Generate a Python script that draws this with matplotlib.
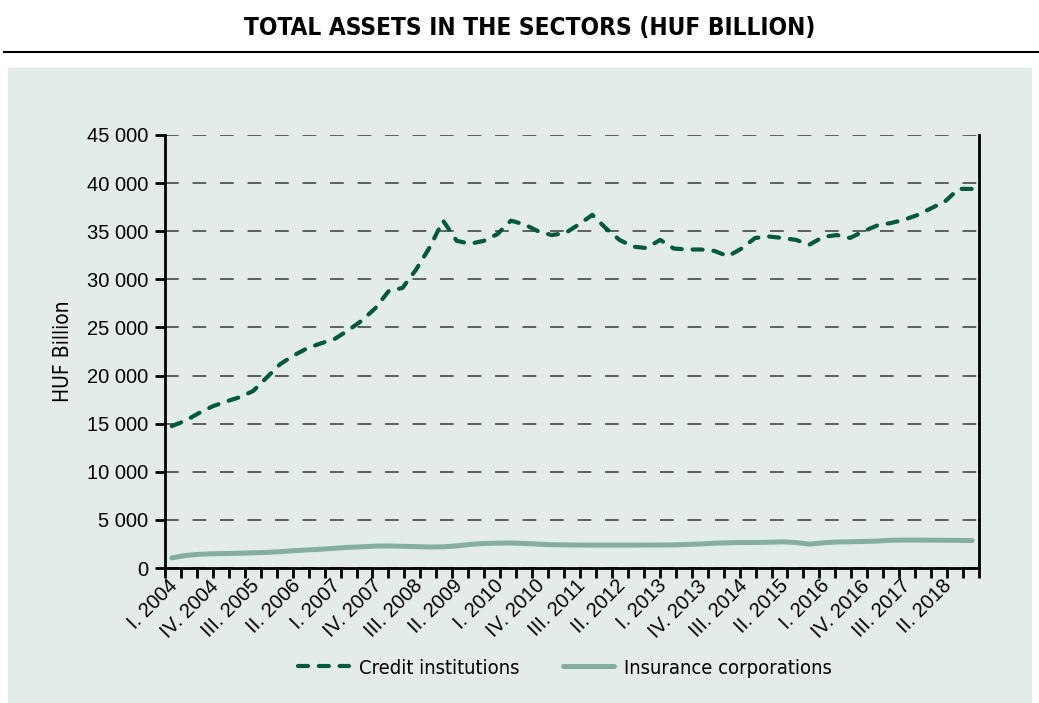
import numpy as np
import matplotlib
matplotlib.use("Agg")
import matplotlib.pyplot as plt
import matplotlib.transforms as mtransforms
from matplotlib.ticker import FuncFormatter, FixedLocator

# quarterly data, I. 2004 - IV. 2018
years = list(range(2004, 2019))
roman = ["I", "II", "III", "IV"]
quarters = [f"{r}. {y}" for y in years for r in roman]

credit = [14750, 15300, 16100, 16800, 17300, 17750, 18400, 19800,
          21200, 22100, 22850, 23350, 23800, 24700, 25700, 27000,
          28800, 29100, 31000, 33300, 36100, 34000, 33700, 34000,
          34700, 36100, 35700, 35000, 34600, 34800, 35700, 36700,
          35300, 34100, 33400, 33250, 34100, 33200, 33100, 33100,
          32950, 32400, 33200, 34300, 34450, 34300, 34100, 33600,
          34400, 34600, 34300, 35000, 35600, 35850, 36200, 36700,
          37400, 38100, 39400, 39400]

insurance = [1050, 1300, 1420, 1480, 1500, 1530, 1580, 1620,
             1700, 1800, 1880, 1950, 2050, 2150, 2200, 2280,
             2290, 2260, 2220, 2180, 2200, 2300, 2450, 2550,
             2580, 2600, 2550, 2480, 2420, 2400, 2390, 2380,
             2380, 2380, 2380, 2390, 2390, 2400, 2450, 2500,
             2580, 2620, 2650, 2650, 2680, 2720, 2650, 2480,
             2620, 2700, 2720, 2760, 2800, 2880, 2900, 2900,
             2890, 2880, 2870, 2850]

DARK = "#005a3c"
LIGHT = "#84ae9e"
BG = "#e4ece9"
REG = ["Liberation Sans", "DejaVu Sans"]

fig = plt.figure(figsize=(10.39, 7.03), dpi=100)
W, H = 1039, 703

# shaded panel and title rule
fig.patches.append(plt.Rectangle((8 / W, 0), (1031 - 8) / W, (703 - 68) / H,
                                 transform=fig.transFigure, color=BG, zorder=-5))
fig.add_artist(plt.Line2D([4 / W, 1], [1 - 52 / H] * 2, color="black", lw=1.5,
                          transform=fig.transFigure))
fig.text(530 / W, 1 - 28 / H, "TOTAL ASSETS IN THE SECTORS (HUF BILLION)",
         ha="center", va="center", fontsize=17.5, fontweight="heavy",
         family="DejaVu Sans", stretch="condensed")

ax = fig.add_axes([165 / W, 1 - 568 / H, (979 - 165) / W, (568 - 135) / H])
ax.set_facecolor("none")
ax.set_zorder(2)

x = np.arange(len(quarters))
ax.plot(x, insurance, color=LIGHT, lw=3.6, solid_capstyle="round",
        label="Insurance corporations", zorder=3)
ax.plot(x, credit, color=DARK, lw=3.0, dashes=(2.4, 2.6),
        dash_capstyle="round", label="Credit institutions", zorder=4)

ax.set_xlim(-0.5, len(quarters) - 0.5)
ax.set_ylim(0, 45000)
ax.set_yticks(np.arange(0, 45001, 5000))
ax.yaxis.set_major_formatter(FuncFormatter(lambda v, p: f"{int(v):,}".replace(",", " ")))
ax.yaxis.grid(True, color="#3a3a3a", lw=1.1, dashes=(9, 9))
ax.set_axisbelow(True)

# labels every third quarter, tick marks on their own spacing
lab_pos = x[::3]
ax.xaxis.set_major_locator(FixedLocator(lab_pos))
ax.set_xticklabels([quarters[i] for i in lab_pos], rotation=45, ha="right",
                   va="top", rotation_mode="default", family=REG, fontsize=14.5)
ax.tick_params(axis="x", which="major", length=0, pad=6)
ax.xaxis.set_minor_locator(FixedLocator(np.linspace(-0.5, len(quarters) - 0.5, 52)))
ax.tick_params(axis="x", which="minor", length=7, width=2, direction="out")
ax.tick_params(axis="y", length=7, width=2, direction="out", labelsize=14.5, pad=5)
for lab in ax.get_yticklabels():
    lab.set_family(REG)
off = mtransforms.ScaledTranslation(10 / 100, 0, fig.dpi_scale_trans)
for lab in ax.get_xticklabels():
    lab.set_transform(lab.get_transform() + off)

for side in ["left", "bottom", "right"]:
    ax.spines[side].set_linewidth(2)
    ax.spines[side].set_color("black")
ax.spines["top"].set_visible(False)
ax.spines["right"].set_bounds(0, 45000)

ax.set_ylabel("HUF Billion", family="DejaVu Sans", stretch="condensed",
              fontsize=15, labelpad=10)

handles, labels = ax.get_legend_handles_labels()
leg = fig.legend(handles[::-1], labels[::-1], loc="center",
                 bbox_to_anchor=(565 / W, 1 - 668 / H), ncol=2, frameon=False,
                 prop={"family": "DejaVu Sans", "stretch": "condensed", "size": 14.5},
                 handlelength=2.5, handletextpad=0.5, columnspacing=2.2)

fig.savefig("out.png", dpi=100)
